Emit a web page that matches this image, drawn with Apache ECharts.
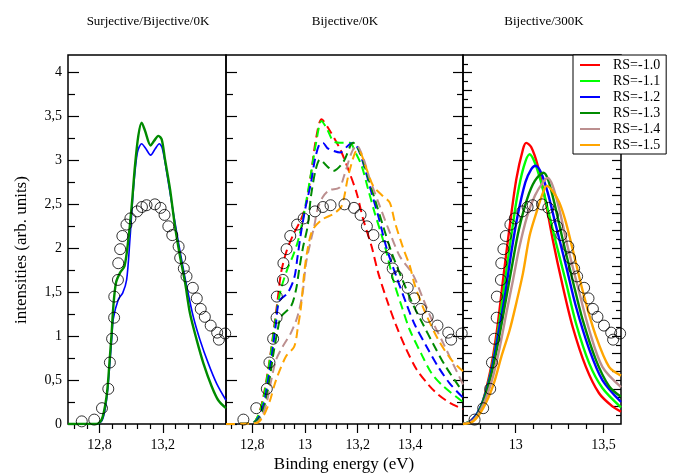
<!DOCTYPE html>
<html><head><meta charset="utf-8">
<script src="https://cdn.jsdelivr.net/npm/echarts@6/dist/echarts.min.js"></script>
<style>html,body{margin:0;padding:0;background:#fff}#c{width:683px;height:475px}</style>
</head><body><div id="c"></div>
<script>
const FONT = 'Liberation Serif';
const panelTitles = ['Surjective/Bijective/0K', 'Bijective/0K', 'Bijective/300K'];
const xAxisTitle = 'Binding energy (eV)';
const yAxisTitle = 'intensities (arb. units)';
const rsNames = ['RS=-1.0', 'RS=-1.1', 'RS=-1.2', 'RS=-1.3', 'RS=-1.4', 'RS=-1.5'];
const rsColors = ['#ff0000', '#00ff00', '#0000ff', '#008b00', '#bc8f8f', '#ffa500'];

// experimental points (circles)
const expData = [[12.687,0.03],[12.766,0.05],[12.815,0.18],[12.855,0.40],[12.865,0.70],[12.879,0.97],[12.892,1.21],[12.893,1.45],[12.916,1.64],[12.918,1.83],[12.93,1.99],[12.944,2.14],[12.97,2.27],[12.995,2.34],[13.038,2.42],[13.068,2.47],[13.097,2.49],[13.15,2.50],[13.186,2.46],[13.211,2.38],[13.235,2.25],[13.26,2.15],[13.30,2.02],[13.31,1.89],[13.333,1.77],[13.35,1.68],[13.39,1.55],[13.415,1.43],[13.44,1.31],[13.466,1.22],[13.503,1.12],[13.544,1.04],[13.555,0.96],[13.595,1.03]];

// panel 1 (Surjective/Bijective/0K)
const p1Blue = [[12.6,0],[12.78,0],[12.815,0.04],[12.836,0.18],[12.85,0.37],[12.864,0.67],[12.878,1.0],[12.887,1.2],[12.919,1.42],[12.946,1.49],[12.971,1.64],[12.992,2.10],[13.014,2.67],[13.039,3.09],[13.066,3.19],[13.094,3.13],[13.123,3.06],[13.151,3.13],[13.178,3.19],[13.198,3.13],[13.225,2.86],[13.256,2.52],[13.288,2.18],[13.319,1.87],[13.351,1.57],[13.393,1.22],[13.435,0.96],[13.488,0.69],[13.541,0.46],[13.6,0.27]];
const p1Green = [[12.6,0],[12.78,0],[12.813,0.05],[12.834,0.2],[12.849,0.39],[12.862,0.69],[12.876,1.03],[12.887,1.34],[12.904,1.61],[12.929,1.72],[12.958,1.80],[12.982,2.10],[13.003,2.48],[13.024,2.94],[13.045,3.28],[13.066,3.43],[13.087,3.34],[13.123,3.17],[13.144,3.22],[13.172,3.28],[13.193,3.24],[13.214,3.01],[13.246,2.67],[13.277,2.25],[13.309,1.91],[13.341,1.61],[13.372,1.26],[13.414,0.96],[13.457,0.69],[13.509,0.43],[13.551,0.27],[13.6,0.18]];

// panel 2 (Bijective/0K), dashed
const p2RS10 = [[12.7,0],[12.8,0.01],[12.82,0.08],[12.839,0.27],[12.858,0.58],[12.871,0.84],[12.883,1.11],[12.896,1.41],[12.909,1.72],[12.928,1.95],[12.953,2.14],[12.985,2.33],[13.004,2.5],[13.023,2.85],[13.042,3.25],[13.063,3.47],[13.088,3.37],[13.133,3.13],[13.164,2.90],[13.196,2.63],[13.221,2.33],[13.253,2.02],[13.278,1.72],[13.31,1.42],[13.345,1.13],[13.383,0.86],[13.424,0.62],[13.465,0.46],[13.5,0.35],[13.55,0.24],[13.6,0.17]];
const p2RS11 = [[12.7,0],[12.8,0.01],[12.82,0.08],[12.84,0.26],[12.858,0.56],[12.871,0.82],[12.883,1.08],[12.896,1.35],[12.91,1.55],[12.935,1.78],[12.955,1.92],[12.975,2.1],[12.995,2.38],[13.02,2.8],[13.042,3.2],[13.063,3.45],[13.085,3.35],[13.107,3.22],[13.133,3.20],[13.171,3.20],[13.19,3.1],[13.215,2.94],[13.24,2.67],[13.265,2.40],[13.291,2.15],[13.31,1.95],[13.335,1.64],[13.367,1.34],[13.398,1.07],[13.443,0.79],[13.48,0.58],[13.525,0.43],[13.6,0.25]];
const p2RS12 = [[12.7,0],[12.8,0.01],[12.825,0.08],[12.845,0.25],[12.86,0.5],[12.875,0.8],[12.89,1.15],[12.902,1.40],[12.934,1.49],[12.959,1.66],[12.972,1.91],[12.985,2.18],[13.003,2.48],[13.023,2.75],[13.037,3.0],[13.054,3.18],[13.068,3.20],[13.085,3.14],[13.107,3.11],[13.133,3.09],[13.164,3.17],[13.183,3.20],[13.202,3.13],[13.228,2.90],[13.253,2.63],[13.278,2.37],[13.31,2.00],[13.348,1.67],[13.386,1.36],[13.417,1.13],[13.462,0.88],[13.506,0.65],[13.55,0.46],[13.6,0.30]];
const p2RS13 = [[12.7,0],[12.8,0.01],[12.83,0.08],[12.85,0.25],[12.865,0.5],[12.88,0.8],[12.895,1.05],[12.909,1.22],[12.947,1.34],[12.966,1.53],[12.978,1.76],[12.993,2.02],[13.01,2.25],[13.023,2.6],[13.041,2.9],[13.057,3.01],[13.082,2.94],[13.107,2.88],[13.145,2.98],[13.183,3.20],[13.209,3.09],[13.234,2.86],[13.265,2.56],[13.297,2.25],[13.329,1.95],[13.373,1.62],[13.41,1.36],[13.449,1.13],[13.487,0.91],[13.531,0.67],[13.6,0.36]];
const p2RS14 = [[12.7,0],[12.81,0.01],[12.835,0.08],[12.855,0.25],[12.872,0.5],[12.89,0.73],[12.915,0.88],[12.947,1.04],[12.972,1.23],[12.991,1.49],[13.004,1.83],[13.023,2.10],[13.035,2.25],[13.048,2.45],[13.067,2.58],[13.092,2.66],[13.13,2.69],[13.148,2.82],[13.177,3.09],[13.196,3.17],[13.221,3.03],[13.246,2.79],[13.284,2.48],[13.322,2.18],[13.36,1.91],[13.41,1.70],[13.449,1.42],[13.487,1.15],[13.525,0.92],[13.563,0.68],[13.6,0.45]];
const p2RS15 = [[12.7,0],[12.815,0.01],[12.84,0.08],[12.865,0.25],[12.89,0.50],[12.928,0.77],[12.959,0.88],[12.972,1.08],[12.985,1.34],[12.997,1.72],[13.01,1.99],[13.029,2.21],[13.067,2.33],[13.107,2.39],[13.139,2.48],[13.164,2.82],[13.19,3.09],[13.202,3.12],[13.234,2.90],[13.259,2.71],[13.297,2.59],[13.322,2.52],[13.341,2.30],[13.373,2.0],[13.398,1.80],[13.417,1.58],[13.455,1.28],[13.506,0.96],[13.556,0.73],[13.6,0.60]];

// panel 3 (Bijective/300K), solid
const p3RS10 = [[12.7,0],[12.74,0.03],[12.796,0.16],[12.853,0.58],[12.891,1.03],[12.928,1.64],[12.966,2.25],[13.004,2.79],[13.042,3.13],[13.06,3.20],[13.089,3.15],[13.126,2.94],[13.164,2.60],[13.211,2.10],[13.268,1.57],[13.324,1.11],[13.4,0.65],[13.475,0.35],[13.551,0.20],[13.6,0.14]];
const p3RS11 = [[12.7,0],[12.749,0.04],[12.8,0.19],[12.855,0.56],[12.896,1.01],[12.935,1.57],[12.972,2.10],[13.008,2.58],[13.045,2.92],[13.079,3.07],[13.108,2.98],[13.145,2.75],[13.192,2.37],[13.23,2.06],[13.287,1.61],[13.343,1.15],[13.419,0.69],[13.494,0.41],[13.6,0.19]];
const p3RS12 = [[12.7,0],[12.749,0.04],[12.806,0.22],[12.858,0.57],[12.898,0.99],[12.938,1.45],[12.975,1.95],[13.011,2.37],[13.055,2.75],[13.089,2.90],[13.113,2.94],[13.145,2.86],[13.183,2.63],[13.23,2.25],[13.287,1.80],[13.343,1.34],[13.419,0.85],[13.494,0.50],[13.6,0.25]];
const p3RS13 = [[12.7,0],[12.758,0.04],[12.815,0.25],[12.866,0.60],[12.905,0.98],[12.945,1.42],[12.982,1.83],[13.018,2.21],[13.065,2.56],[13.11,2.77],[13.158,2.86],[13.183,2.79],[13.22,2.52],[13.268,2.10],[13.324,1.64],[13.381,1.19],[13.457,0.73],[13.532,0.43],[13.6,0.31]];
const p3RS14 = [[12.7,0],[12.758,0.04],[12.815,0.22],[12.868,0.52],[12.908,0.86],[12.947,1.26],[12.985,1.64],[13.022,2.02],[13.066,2.37],[13.11,2.60],[13.155,2.75],[13.183,2.80],[13.211,2.71],[13.249,2.44],[13.296,2.02],[13.353,1.57],[13.419,1.07],[13.494,0.65],[13.6,0.42]];
const p3RS15 = [[12.7,0],[12.758,0.03],[12.815,0.18],[12.872,0.44],[12.919,0.77],[12.966,1.07],[13.004,1.38],[13.042,1.72],[13.079,2.14],[13.117,2.40],[13.155,2.63],[13.177,2.71],[13.211,2.65],[13.249,2.52],[13.287,2.29],[13.334,1.91],[13.39,1.45],[13.457,1.0],[13.532,0.65],[13.6,0.55]];

const p2Series = [p2RS10, p2RS11, p2RS12, p2RS13, p2RS14, p2RS15];
const p3Series = [p3RS10, p3RS11, p3RS12, p3RS13, p3RS14, p3RS15];

// axes ranges and ticks
const xRanges = [[12.6, 13.6], [12.7, 13.6], [12.7, 13.6]];
const yRange = [0, 4.2];
const xMajorTicks = [[12.8, 13.2], [12.8, 13.0, 13.2, 13.4], [13.0, 13.5]];
const xMinorTicks = [
  [12.64, 12.72, 12.88, 12.96, 13.04, 13.12, 13.28, 13.36, 13.44, 13.52],
  [12.72, 12.76, 12.84, 12.88, 12.92, 12.96, 13.04, 13.08, 13.12, 13.16, 13.24, 13.28, 13.32, 13.36, 13.44, 13.48, 13.52, 13.56],
  [12.8, 12.9, 13.1, 13.2, 13.3, 13.4]
];
const yMajorTicks = [0, 0.5, 1, 1.5, 2, 2.5, 3, 3.5, 4];
const yMinorTicks = [0.25, 0.75, 1.25, 1.75, 2.25, 2.75, 3.25, 3.75];
const y3MajorTicks = [0.2, 0.4, 0.6, 0.8, 1.0, 1.2, 1.4, 1.6, 1.8, 2.0, 2.2, 2.4, 2.6, 2.8, 3.0, 3.2, 3.4, 3.6, 3.8, 4.0];
const y3MinorTicks = [0.1, 0.3, 0.5, 0.7, 0.9, 1.1, 1.3, 1.5, 1.7, 1.9, 2.1, 2.3, 2.5, 2.7, 2.9, 3.1, 3.3, 3.5, 3.7, 3.9, 4.1];

const fmt = v => String(+(+v).toFixed(2)).replace('.', ',');

const grids = [
  {left: 68, top: 55, width: 158, height: 369},
  {left: 226, top: 55, width: 237, height: 369},
  {left: 463, top: 55, width: 158, height: 369}
].map(g => Object.assign(g, {show: true, borderColor: '#000', borderWidth: 1.5, backgroundColor: 'transparent'}));

function xAx(g, ticks, len, labels) {
  return {
    type: 'value', gridIndex: g, min: xRanges[g][0], max: xRanges[g][1], position: 'bottom',
    axisLine: {show: false, onZero: false}, splitLine: {show: false},
    axisTick: {show: true, inside: false, length: len, customValues: ticks, lineStyle: {color: '#000', width: 1.2}},
    axisLabel: {show: labels, customValues: ticks, margin: 14, formatter: fmt, fontFamily: FONT, fontSize: 14, color: '#000'}
  };
}
function yAx(g, pos, ticks, len, labels) {
  return {
    type: 'value', gridIndex: g, min: yRange[0], max: yRange[1], position: pos,
    axisLine: {show: false, onZero: false}, splitLine: {show: false},
    axisTick: {show: true, inside: true, length: len, customValues: ticks, lineStyle: {color: '#000', width: 1.2}},
    axisLabel: {show: labels, customValues: ticks, margin: 6, formatter: fmt, fontFamily: FONT, fontSize: 14, color: '#000'}
  };
}

const xAxes = [];
for (let g = 0; g < 3; g++) {
  xAxes.push(xAx(g, xMajorTicks[g], 9, true));
  xAxes.push(xAx(g, xMinorTicks[g], 5, false));
}
const yAxes = [
  yAx(0, 'left', yMajorTicks, 11, true), yAx(0, 'left', yMinorTicks, 7, false),
  yAx(1, 'left', yMajorTicks, 11, false), yAx(1, 'left', yMinorTicks, 7, false),
  yAx(1, 'right', yMajorTicks, 10, false), yAx(1, 'right', yMinorTicks, 6, false),
  yAx(2, 'left', y3MajorTicks, 9, false), yAx(2, 'left', y3MinorTicks, 5, false),
  yAx(2, 'right', y3MajorTicks, 9, false), yAx(2, 'right', y3MinorTicks, 5, false)
];
const xMain = [0, 2, 4];
const yMain = [0, 2, 6];

function circles(g) {
  return {
    type: 'scatter', name: 'exp' + g, xAxisIndex: xMain[g], yAxisIndex: yMain[g],
    data: expData.filter(p => p[0] >= xRanges[g][0] && p[0] <= xRanges[g][1]),
    symbol: 'circle', symbolSize: 11, clip: false, z: 5,
    itemStyle: {color: 'rgba(0,0,0,0)', borderColor: '#000', borderWidth: 1}
  };
}
function line(g, name, data, color, width, dash) {
  return {
    type: 'line', name: name, xAxisIndex: xMain[g], yAxisIndex: yMain[g], data: data,
    showSymbol: false, symbol: 'none', smooth: 0.3, clip: true, z: 3,
    itemStyle: {color: color},
    lineStyle: {color: color, width: width, type: dash ? [9, 5] : 'solid'}
  };
}

const series = [
  circles(0),
  line(0, 'Surjective', p1Blue, '#0000ff', 1.6, false),
  line(0, 'Bijective', p1Green, '#008b00', 2.4, false),
  circles(1),
  ...p2Series.map((d, i) => line(1, '0K ' + rsNames[i], d, rsColors[i], 2, true)),
  circles(2),
  ...p3Series.map((d, i) => line(2, rsNames[i], d, rsColors[i], 2.4, false))
];

const titleCenters = [148, 345, 544];
const graphics = panelTitles.map((t, i) => ({
  type: 'text', x: titleCenters[i], y: 22,
  style: {text: t, font: '13px "' + FONT + '"', fill: '#000', align: 'center', verticalAlign: 'middle', textAlign: 'center', textVerticalAlign: 'middle'}
}));
graphics.push({type: 'text', x: 344, y: 465,
  style: {text: xAxisTitle, font: '17px "' + FONT + '"', fill: '#000', align: 'center', verticalAlign: 'middle', textAlign: 'center', textVerticalAlign: 'middle'}});
graphics.push({type: 'text', x: 22, y: 250, rotation: Math.PI / 2,
  style: {text: yAxisTitle, font: '17px "' + FONT + '"', fill: '#000', align: 'center', verticalAlign: 'middle', textAlign: 'center', textVerticalAlign: 'middle'}});

const chart = echarts.init(document.getElementById('c'), null, {renderer: 'canvas'});
chart.setOption({
  animation: false,
  backgroundColor: '#fff',
  grid: grids,
  xAxis: xAxes,
  yAxis: yAxes,
  legend: {
    data: rsNames, orient: 'vertical', left: 573, top: 55, padding: [3, 6, 2, 7], itemGap: 2,
    itemWidth: 20, itemHeight: 2, icon: 'rect', backgroundColor: '#fff', borderColor: '#000', borderWidth: 1,
    textStyle: {fontFamily: FONT, fontSize: 14, color: '#000', lineHeight: 14, padding: [0, 0, 0, 8]}, z: 10
  },
  graphic: graphics,
  series: series
});
</script>
</body></html>
